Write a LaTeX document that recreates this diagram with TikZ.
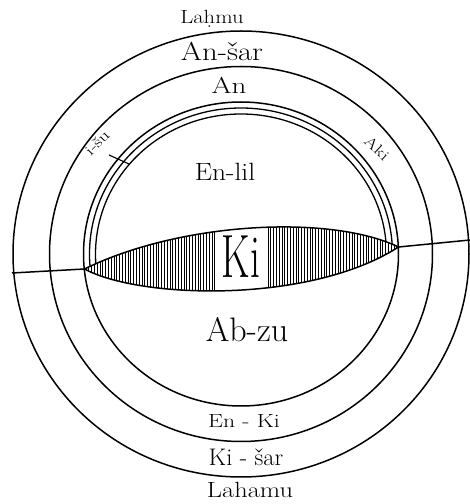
\documentclass[tikz,border=0pt]{standalone}
\usepackage{graphicx}
\usepackage{tikz}
\usetikzlibrary{positioning,calc}

\newcommand{\hand}[3]{{\fontsize{#1}{#1}\selectfont\scalebox{#2}[1]{#3}}}

\begin{document}
\begin{tikzpicture}[x=1pt, y=1pt,
    ring/.style={draw=black, line width=1.5pt},
    hatch/.style={draw=black, line width=0.85pt},
    word/.style={inner sep=0pt, text=black}
]
    \useasboundingbox (0,0) rectangle (470,504);
    \coordinate (c) at (241,250);
    \coordinate (lt) at (84.5,235);
    \coordinate (rt) at (398.5,257);
    \coordinate (w) at (12,231);
    \coordinate (e) at (470,264);

    % the three heavens
    \draw[ring] (c) ellipse [x radius=228, y radius=223];
    \draw[ring] (c) ellipse [x radius=191.5, y radius=187.5];
    \draw[ring] (c) ellipse [x radius=157.5, y radius=152];
    \begin{scope}
        \clip (0,235) -- (lt) .. controls (180,282) and (330,290) .. (rt)
              -- (470,257) -- (470,504) -- (0,504) -- cycle;
        \draw[ring, line width=1.3pt] (c) ellipse [x radius=151.5, y radius=146];
        \draw[ring, line width=1.3pt] (c) ellipse [x radius=145.5, y radius=140];
    \end{scope}

    % the earth
    \begin{scope}
        \clip (lt) .. controls (180,282) and (330,290) .. (rt)
              .. controls (310,200) and (140,205) .. (lt) -- cycle;
        \foreach \x in {86,88.8,...,217} \draw[hatch] (\x,200) -- (\x,300);
        \foreach \x in {268,270.8,...,399} \draw[hatch] (\x,200) -- (\x,300);
    \end{scope}
    \draw[ring] (lt) .. controls (180,282) and (330,290) .. (rt)
                .. controls (310,200) and (140,205) .. (lt) -- cycle;
    \draw[ring] (w) -- (lt);
    \draw[ring] (rt) -- (e);
    \draw[ring, line width=1.1pt] (109,349) -- (129,340);

    \node[word] (lahmu) at (212,485) {\hand{19}{1.19}{La\d{h}mu}};
    \node[word] (ansar) at (222,453) {\hand{26}{1.18}{An-šar}};
    \node[word] (an) at (229,419) {\hand{23}{1.26}{An}};
    \node[word] (enlil) at (225,332) {\hand{25}{1.1}{En-lil}};
    \node[word] (ki) at (241,247) {\hand{61}{0.65}{Ki}};
    \node[word] (abzu) at (247,174) {\hand{34}{1}{Ab-zu}};
    \node[word] (enki) at (244,83) {\hand{19}{1.25}{En - Ki}};
    \node[word] (kisar) at (246,47) {\hand{24}{1.02}{Ki - šar}};
    \node[word] (lahamu) at (250,14) {\hand{22}{1.2}{Lahamu}};
    \node[word, rotate=45] (isu) at (97,361) {\hand{15}{1.3}{i-šu}};
    \node[word, rotate=-43] (aki) at (377,356) {\hand{15}{1.3}{Aki}};
\end{tikzpicture}
\end{document}
